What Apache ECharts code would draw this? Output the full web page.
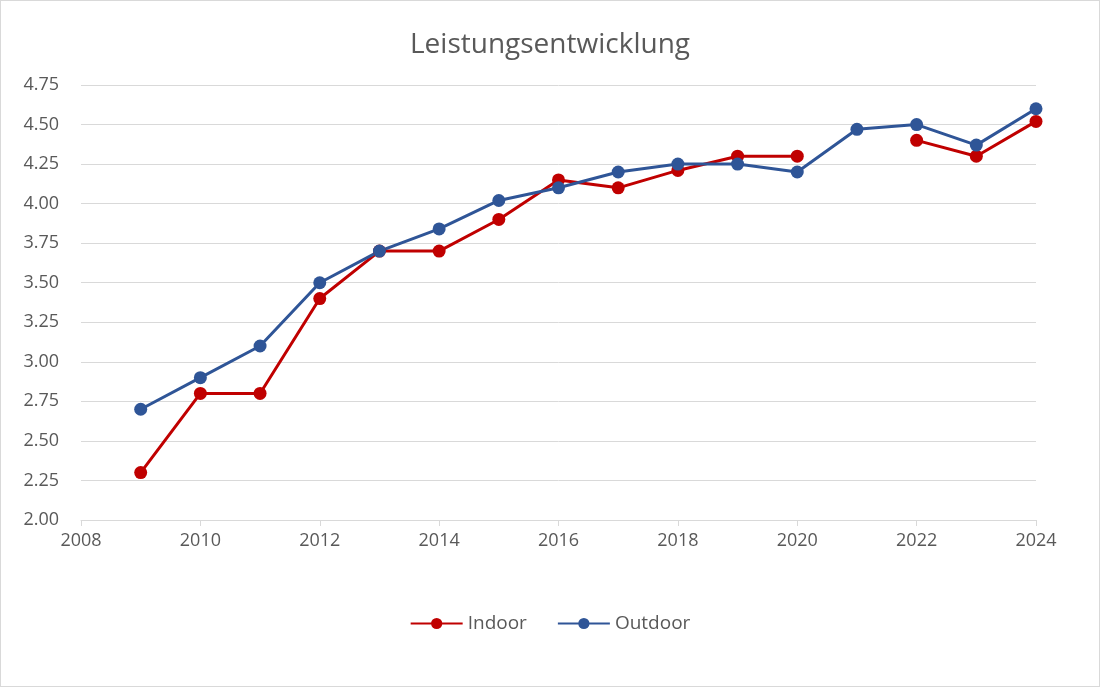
<!DOCTYPE html>
<html><head><meta charset="utf-8">
<script src="https://cdn.jsdelivr.net/npm/echarts@6/dist/echarts.min.js"></script>
<style>html,body{margin:0;padding:0;background:#fff}#c{width:1100px;height:687px;box-sizing:border-box;border:1px solid #d9d9d9}</style>
</head><body><div id="c"></div>
<script>
const years=[2009,2010,2011,2012,2013,2014,2015,2016,2017,2018,2019,2020,2021,2022,2023,2024];
const indoor=[2.30,2.80,2.80,3.40,3.70,3.70,3.90,4.15,4.10,4.21,4.30,4.30,null,4.40,4.30,4.52];
const outdoor=[2.70,2.90,3.10,3.50,3.70,3.84,4.02,4.10,4.20,4.25,4.25,4.20,4.47,4.50,4.37,4.60];
const chart=echarts.init(document.getElementById('c'));
const txt='#595959', f='Open Sans';
function ser(name,vals,color){return {name,type:'line',data:years.map((y,i)=>[y,vals[i]]),connectNulls:false,
 symbol:'circle',symbolSize:13,lineStyle:{width:3,color},itemStyle:{color},emphasis:{disabled:true}};}
chart.setOption({animation:false,
 title:{text:'Leistungsentwicklung',left:'center',top:25,textStyle:{color:txt,fontSize:28,fontWeight:'normal',fontFamily:f}},
 legend:{bottom:48,left:'center',itemWidth:52,itemHeight:14,itemGap:30,textStyle:{color:txt,fontSize:19,fontFamily:f},
  data:['Indoor','Outdoor']},
 grid:{left:80,right:63,top:84,bottom:166},
 xAxis:{type:'value',min:2008,max:2024,interval:2,splitLine:{show:false},
  axisLine:{lineStyle:{color:'#d9d9d9'}},axisTick:{show:true,length:6,lineStyle:{color:'#d9d9d9'}},
  axisLabel:{color:txt,fontSize:18,fontFamily:f,margin:12,formatter:v=>String(v)}},
 yAxis:{type:'value',min:2,max:4.75,interval:0.25,axisLine:{show:false},axisTick:{show:false},
  splitLine:{lineStyle:{color:'#d9d9d9',width:1}},
  axisLabel:{color:txt,fontSize:18,fontFamily:f,margin:22,formatter:v=>v.toFixed(2)}},
 series:[ser('Indoor',indoor,'#c00000'),ser('Outdoor',outdoor,'#2f5597')]
});
</script></body></html>
